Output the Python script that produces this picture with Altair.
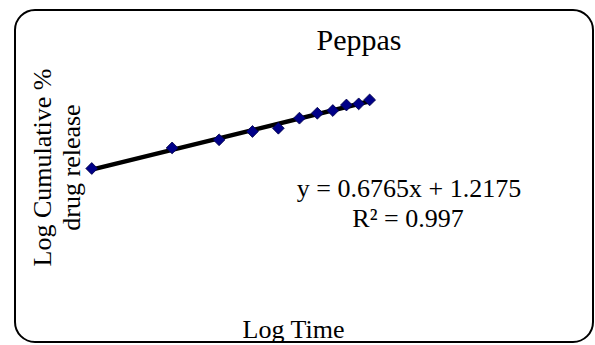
import altair as alt
import pandas as pd

log_time = [0.0, 0.301, 0.477, 0.602, 0.699, 0.778, 0.845, 0.903, 0.954, 1.0, 1.041]
log_release = [1.215, 1.428, 1.512, 1.598, 1.632, 1.736, 1.787, 1.815, 1.872, 1.884, 1.925]
title_text = "Peppas"
equation = "y = 0.6765x + 1.2175"
r2_text = "R² = 0.997"
y_title = ["Log Cumulative %", "drug release"]
x_title = "Log Time"

df = pd.DataFrame({"x": log_time, "y": log_release})
FONT = "Liberation Serif"

x_enc = alt.X("x:Q", scale=alt.Scale(domain=[-0.044, 1.754], nice=False, zero=False),
              axis=alt.Axis(title=x_title, domain=False, ticks=False, labels=False, grid=False,
                            titleFont=FONT, titleFontSize=26, titleFontWeight="normal",
                            titleColor="black", titleX=213, titleY=37, titleBaseline="alphabetic",
                            titleAlign="center"))
y_enc = alt.Y("y:Q", scale=alt.Scale(domain=[-0.146, 2.338], nice=False, zero=False),
              axis=alt.Axis(title=y_title, domain=False, ticks=False, labels=False, grid=False,
                            titleFont=FONT, titleFontSize=26, titleFontWeight="normal",
                            titleColor="black", titleX=-30, titleY=107, titleAngle=270,
                            titleBaseline="alphabetic", titleAlign="center", titleLineHeight=29))

base = alt.Chart(df)

line = base.transform_regression("x", "y").mark_line(color="black", strokeWidth=4.5).encode(
    x=x_enc, y=y_enc)

points = base.mark_point(shape="diamond", filled=True, size=140, color="#000088",
                         stroke="#000044", strokeWidth=0.8, opacity=1).encode(x="x:Q", y="y:Q")

one = alt.Chart(pd.DataFrame({"a": [0]}))

border = one.mark_rect(fill="white", fillOpacity=0, stroke="black", strokeWidth=2,
                       cornerRadius=20, clip=False).encode(
    x=alt.value(-65), x2=alt.value(513), y=alt.value(-50), y2=alt.value(282))

title = one.mark_text(font=FONT, fontSize=30, color="black", align="center",
                      baseline="alphabetic").encode(
    x=alt.value(279), y=alt.value(-10), text=alt.value(title_text))

eq = one.mark_text(font=FONT, fontSize=26, color="black", align="center",
                   baseline="alphabetic").encode(
    x=alt.value(329), y=alt.value(137), text=alt.value(equation))

r2 = one.mark_text(font=FONT, fontSize=26, color="black", align="center",
                   baseline="alphabetic").encode(
    x=alt.value(328), y=alt.value(167), text=alt.value(r2_text))

chart = alt.layer(border, line, points, title, eq, r2).properties(
    width=480, height=240,
    autosize=alt.AutoSizeParams(type="none"),
    padding={"left": 80, "top": 60, "right": 35, "bottom": 45},
    background="white",
).configure_view(stroke=None)

chart.save("out.html", embed_options={"renderer": "svg", "actions": False})
